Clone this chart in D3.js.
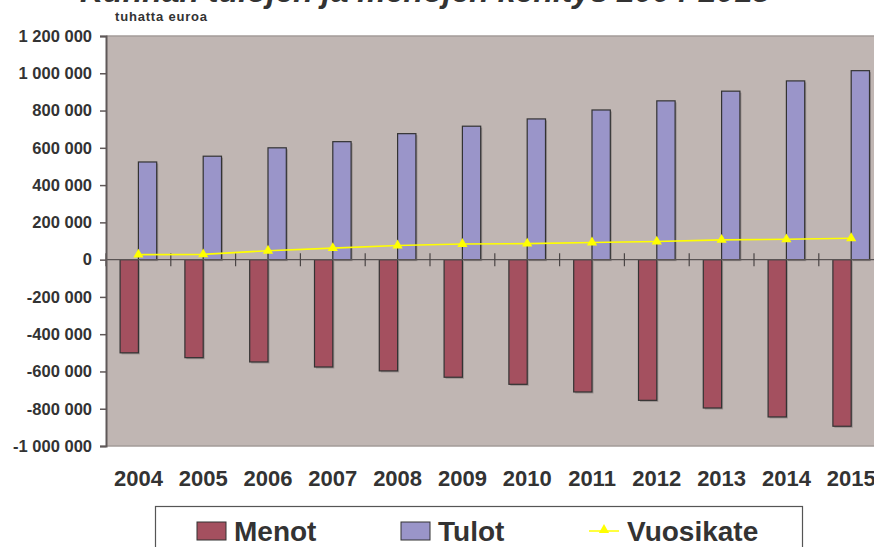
<!DOCTYPE html>
<html>
<head>
<meta charset="utf-8">
<script src="https://cdn.jsdelivr.net/npm/d3@7"></script>
<style>
  body { margin: 0; background: #fff; }
  svg { display: block; font-family: "Liberation Sans", Arial, sans-serif; }
  .y-axis text { font-size: 16.5px; font-weight: bold; fill: #333; }
  .x-labels text { font-size: 22px; font-weight: bold; fill: #333; }
</style>
</head>
<body>
<div id="chart"></div>
<script>
// Values in thousands of euros
const years = ["2004", "2005", "2006", "2007", "2008", "2009", "2010", "2011", "2012", "2013", "2014", "2015"];
const menot = [-500, -526, -549, -576, -597, -631, -669, -710, -755, -796, -844, -894];
const tulot = [524, 555, 600, 633, 676, 716, 755, 803, 852, 904, 959, 1014];
const vuosikate = [27, 28, 48, 62, 76, 84, 86, 92, 97, 106, 109, 115];
const yTicks = [-1000000, -800000, -600000, -400000, -200000, 0, 200000, 400000, 600000, 800000, 1000000, 1200000];
const seriesNames = ["Menot", "Tulot", "Vuosikate"];

const colors = { Menot: "#a4505f", Tulot: "#9a95c9", Vuosikate: "#ffff00" };

const width = 874, height = 547;
const plot = { left: 106, top: 36, bottom: 446, step: 64.8 };

const svg = d3.select("#chart").append("svg")
    .attr("width", width).attr("height", height);

// Scales
const x = d3.scaleBand().domain(years)
    .range([plot.left, plot.left + plot.step * years.length])
    .paddingInner(0).paddingOuter(0);
const xInner = d3.scaleBand().domain(["Menot", "Tulot"])
    .range([0, x.bandwidth()]).paddingInner(0).paddingOuter(0.77);
const y = d3.scaleLinear().domain([-1000000, 1200000]).range([plot.bottom, plot.top]);

// Title (cut off at the top like the original)
svg.append("text")
    .attr("x", 425).attr("y", 2)
    .attr("text-anchor", "middle")
    .attr("font-size", 32).attr("font-weight", "bold").attr("font-style", "italic")
    .attr("fill", "#333")
    .text("Kunnan tulojen ja menojen kehitys 2004-2015");

svg.append("text")
    .attr("x", 115).attr("y", 21)
    .attr("font-size", 13).attr("font-weight", "bold")
    .attr("textLength", 92)
    .attr("fill", "#333")
    .text("tuhatta euroa");

// Plot background
svg.append("rect")
    .attr("x", plot.left).attr("y", plot.top)
    .attr("width", width - plot.left + 20).attr("height", plot.bottom - plot.top)
    .attr("fill", "#c0b6b3");
svg.append("line")
    .attr("x1", plot.left).attr("x2", width)
    .attr("y1", plot.top).attr("y2", plot.top)
    .attr("stroke", "#a39b99").attr("stroke-width", 1.5);
svg.append("line")
    .attr("x1", plot.left).attr("x2", width)
    .attr("y1", plot.bottom).attr("y2", plot.bottom)
    .attr("stroke", "#a39b99").attr("stroke-width", 1.5);

// Bars
const barData = [];
years.forEach((yr, i) => {
    barData.push({ year: yr, key: "Menot", value: menot[i] * 1000 });
    barData.push({ year: yr, key: "Tulot", value: tulot[i] * 1000 });
});

const bars = svg.append("g");
// soft shadow
bars.selectAll("rect.shadow")
    .data(barData)
    .join("rect")
    .attr("class", "shadow")
    .attr("x", d => x(d.year) + xInner(d.key) + 1.5)
    .attr("y", d => Math.min(y(d.value), y(0)) + 1.5)
    .attr("width", xInner.bandwidth())
    .attr("height", d => Math.abs(y(d.value) - y(0)))
    .attr("fill", "#7d7574").attr("opacity", 0.6);
bars.selectAll("rect.bar")
    .data(barData)
    .join("rect")
    .attr("class", "bar")
    .attr("x", d => x(d.year) + xInner(d.key))
    .attr("y", d => Math.min(y(d.value), y(0)))
    .attr("width", xInner.bandwidth())
    .attr("height", d => Math.abs(y(d.value) - y(0)))
    .attr("fill", d => colors[d.key])
    .attr("stroke", "#333")
    .attr("stroke-width", 1.2);

// Zero line with crossing category ticks
const y0 = y(0);
svg.append("line")
    .attr("x1", plot.left).attr("x2", width)
    .attr("y1", y0).attr("y2", y0)
    .attr("stroke", "#5a5454").attr("stroke-width", 1.2);
const boundaries = years.map(d => x(d)).concat([x.range()[1]]);
svg.append("g").selectAll("line")
    .data(boundaries)
    .join("line")
    .attr("x1", d => d).attr("x2", d => d)
    .attr("y1", y0 - 6.5).attr("y2", y0 + 6.5)
    .attr("stroke", "#4a4545").attr("stroke-width", 1.2);

// Vuosikate line
const lineGen = d3.line()
    .x((d, i) => x(years[i]) + x.bandwidth() / 2)
    .y(d => y(d * 1000));
svg.append("path")
    .datum(vuosikate)
    .attr("fill", "none")
    .attr("stroke", colors.Vuosikate)
    .attr("stroke-width", 1.6)
    .attr("d", lineGen);
const tri = d3.symbol().type(d3.symbolTriangle).size(45);
svg.append("g").selectAll("path")
    .data(vuosikate)
    .join("path")
    .attr("transform", (d, i) => `translate(${x(years[i]) + x.bandwidth() / 2},${y(d * 1000)})`)
    .attr("d", tri)
    .attr("fill", colors.Vuosikate);

// Y axis
const fi = d3.formatLocale({ decimal: ",", thousands: " ", grouping: [3], currency: ["", " €"], minus: "-" });
const fmt = fi.format(",d");
const yAxis = svg.append("g")
    .attr("class", "y-axis")
    .attr("transform", `translate(${plot.left},0)`)
    .call(d3.axisLeft(y).tickValues(yTicks).tickFormat(fmt).tickSize(6).tickPadding(8));
yAxis.select(".domain").attr("stroke", "#5f5858").attr("stroke-width", 2);
yAxis.selectAll(".tick line").attr("stroke", "#5f5858").attr("stroke-width", 1.5);

// X labels
const xAxis = svg.append("g")
    .attr("class", "x-labels")
    .attr("transform", `translate(0,${plot.bottom})`)
    .call(d3.axisBottom(x).tickSize(0).tickPadding(24));
xAxis.select(".domain").remove();

// Legend
const legend = svg.append("g");
legend.append("rect")
    .attr("x", 155.5).attr("y", 506.5)
    .attr("width", 647).attr("height", 60)
    .attr("fill", "#fff").attr("stroke", "#555").attr("stroke-width", 1.2);
const legendX = [197, 401, 589];
seriesNames.forEach((name, i) => {
    const lx = legendX[i];
    if (name === "Vuosikate") {
        legend.append("line")
            .attr("x1", lx).attr("x2", lx + 30)
            .attr("y1", 531).attr("y2", 531)
            .attr("stroke", colors[name]).attr("stroke-width", 1.5);
        legend.append("path")
            .attr("transform", `translate(${lx + 15},530)`)
            .attr("d", tri)
            .attr("fill", colors[name]);
    } else {
        legend.append("rect")
            .attr("x", lx).attr("y", 522)
            .attr("width", 29).attr("height", 18)
            .attr("fill", colors[name]).attr("stroke", "#333").attr("stroke-width", 1);
    }
    legend.append("text")
        .attr("x", lx + (name === "Vuosikate" ? 38 : 37)).attr("y", 541)
        .attr("font-size", 28).attr("font-weight", "bold")
        .attr("fill", "#333")
        .text(name);
});
</script>
</body>
</html>
